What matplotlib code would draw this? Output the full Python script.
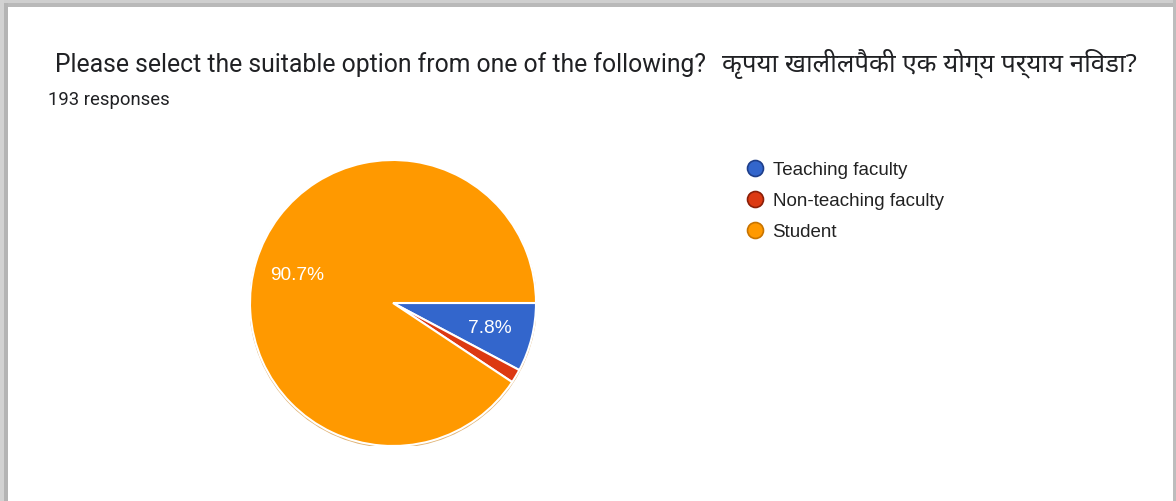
import matplotlib
matplotlib.use("Agg")

import matplotlib.pyplot as plt
from matplotlib.lines import Line2D
from matplotlib.patches import Rectangle

# data
labels = ["Teaching faculty", "Non-teaching faculty", "Student"]
counts = [15, 3, 175]
colors = ["#3366cc", "#dc3912", "#ff9900"]
edge_colors = ["#1f3f8a", "#8a1f08", "#c87400"]
title_en = "Please select the suitable option from one of the following?"
title_mr = "कृपया खालीलपैकी एक योग्य पर्याय निवडा?"
n_responses = 193

W, H = 1176, 502
fig = plt.figure(figsize=(W / 100, H / 100), dpi=100)
fig.patch.set_facecolor("white")

# screenshot frame
frame = [
    (0, H - 4, W, 4, "#cfcfcf"),
    (0, H - 8, W, 4, "#b9b9b9"),
    (0, 0, 4, H, "#d2d2d2"),
    (4, 0, 4, H - 4, "#b4b4b4"),
    (W - 3, 0, 3, H, "#bdbdbd"),
]
for x, y, w, h, c in frame:
    fig.add_artist(Rectangle((x / W, y / H), w / W, h / H, transform=fig.transFigure,
                             facecolor=c, edgecolor="none", zorder=0))

title_fonts = ["Roboto", "Noto Sans", "DejaVu Sans"]
fig.text(55 / W, 1 - 72 / H, title_en, fontsize=17.8, family=title_fonts,
         color="#202124", ha="left", va="baseline")
fig.text(722 / W, 1 - 72 / H, title_mr, fontsize=18.6, family=["Noto Sans", "DejaVu Sans"],
         color="#202124", ha="left", va="baseline")
fig.text(48 / W, 1 - 105 / H, f"{n_responses} responses", fontsize=13.3, family="Roboto",
         color="#202124", ha="left", va="baseline")

# pie
cx, cy, r = 393, 304, 143
ax = fig.add_axes([(cx - r) / W, (H - cy - r) / H, 2 * r / W, 2 * r / H])
ax.axis("off")

def fmt(p):
    return f"{p:.1f}%" if p > 5 else ""

wedges, texts, autotexts = ax.pie(
    counts, colors=colors, startangle=0, counterclock=False, radius=1,
    autopct=fmt, pctdistance=0.7,
    wedgeprops=dict(edgecolor="white", linewidth=1.5),
    textprops=dict(color="white", fontsize=13.8, family="Liberation Sans"),
)
for w in wedges:
    w.set_zorder(2)
for t in autotexts:
    t.set_zorder(3)

shadow = plt.Circle((0.0, -0.008), 1.006, facecolor="#c87400", edgecolor="none",
                    alpha=0.55, zorder=1)
ax.add_patch(shadow)
ax.set_xlim(-1, 1)
ax.set_ylim(-1, 1)
ax.set_aspect("auto")

# legend
handles = [Line2D([], [], marker="o", linestyle="", markersize=11.5,
                  markerfacecolor=c, markeredgecolor=ec, markeredgewidth=1.2)
           for c, ec in zip(colors, edge_colors)]
fig.legend(handles, labels, loc="upper left", bbox_to_anchor=(736 / W, 1 - 153 / H),
           frameon=False, prop=dict(family="Liberation Sans", size=13.5),
           handlelength=1.0, handletextpad=0.45, labelspacing=0.73, borderpad=0,
           labelcolor="#222222")

fig.savefig("out.png", dpi=100)
